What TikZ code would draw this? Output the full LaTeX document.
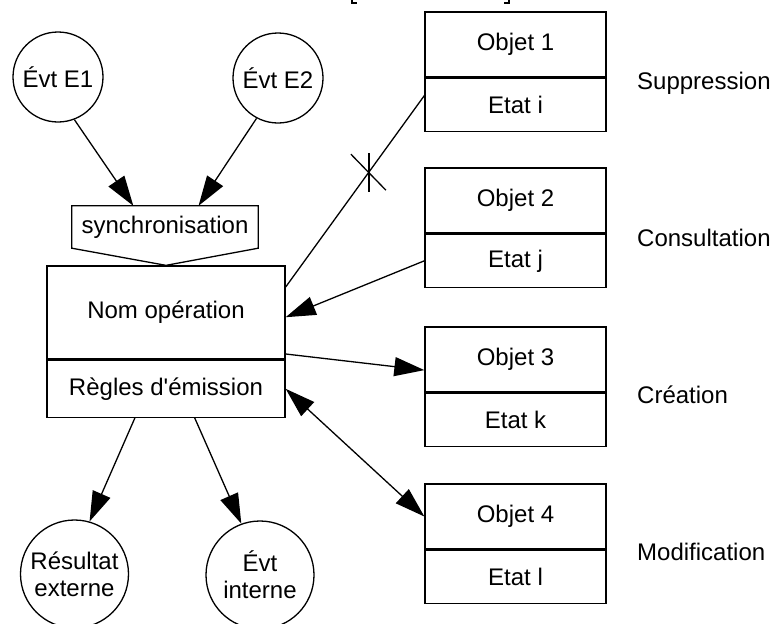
\documentclass[tikz,border=0pt]{standalone}
\usepackage{fontspec}
\setmainfont{Liberation Sans}
\usetikzlibrary{arrows.meta,positioning,calc}

\begin{document}
\begin{tikzpicture}[
x=1pt,
y=-1pt,
every node/.style={font=\fontsize{24}{27}\selectfont},
evt/.style={circle,draw,line width=1.3pt,align=center,inner sep=0pt,minimum size=90pt},
sortie/.style={circle,draw,line width=1.3pt,align=center,inner sep=0pt,minimum size=108pt},
opbox/.style={rectangle,draw,line width=1.3pt,inner sep=0pt,minimum width=238pt},
objet/.style={rectangle,draw,line width=1.3pt,inner sep=0pt,minimum width=181pt,minimum height=65pt},
etat/.style={rectangle,draw,line width=1.3pt,inner sep=0pt,minimum width=181pt,minimum height=53pt},
lien/.style={line width=1.3pt},
arr/.style={-{Triangle[length=30pt,width=19pt]},line width=1.3pt},
arr2/.style={{Triangle[length=30pt,width=19pt]}-{Triangle[length=30pt,width=19pt]},line width=1.3pt},
lbl/.style={anchor=west,inner sep=0pt}
]
\useasboundingbox (0,0) rectangle (774,624);

\node[evt] (e1) at (58,77) {Évt E1};
\node[evt] (e2) at (278,78) {Évt E2};
\node[rectangle,inner sep=0pt,minimum width=186pt,minimum height=42pt] (sync) at (165,227) {synchronisation};

\node[opbox,minimum height=93pt] (oper) at (166,312.5) {Nom opération};
\node[opbox,minimum height=57pt,below=0pt of oper] (regles) {Règles d\textquotesingle émission};
\draw[lien] (sync.north west) -- (sync.north east) -- (sync.south east) -- (oper.north) -- (sync.south west) -- cycle;

\node[sortie] (res) at (74.5,574) {Résultat\\externe};
\node[sortie] (int) at (260,575) {Évt\\interne};

\node[objet] (obj1) at (515.5,44.5) {Objet 1};
\node[etat,below=0pt of obj1] (etat1) {Etat i};
\node[objet] (obj2) at (515.5,200.5) {Objet 2};
\node[etat,below=0pt of obj2] (etat2) {Etat j};
\node[objet] (obj3) at (515.5,359.5) {Objet 3};
\node[etat,below=0pt of obj3] (etat3) {Etat k};
\node[objet] (obj4) at (515.5,516.5) {Objet 4};
\node[etat,below=0pt of obj4] (etat4) {Etat l};

\node[lbl] (supp) at (637,83) {Suppression};
\node[lbl] (cons) at (637,238) {Consultation};
\node[lbl] (crea) at (637,395) {Création};
\node[lbl] (modif) at (637,552) {Modification};

\draw[arr] (e1.-69) -- ($(sync.north west)!0.33!(sync.north east)$);
\draw[arr] (e2.-118) -- ($(sync.north west)!0.68!(sync.north east)$);

\draw[lien] ($(etat1.north west)!0.33!(etat1.south west)$) -- coordinate[pos=0.40] (coupure) ($(oper.north east)!0.23!(oper.south east)$);
\draw[lien] ($(coupure)+(0,-19)$) -- ($(coupure)+(0,20)$);
\draw[lien] ($(coupure)+(-18,-18)$) -- ($(coupure)+(17,18)$);
\draw[arr] (etat2.west) -- ($(oper.north east)!0.55!(oper.south east)$);
\draw[arr] ($(oper.north east)!0.94!(oper.south east)$) -- ($(obj3.north west)!0.66!(obj3.south west)$);
\draw[arr2] (regles.east) -- (obj4.west);

\draw[arr] ($(regles.south west)!0.37!(regles.south east)$) -- (res.74);
\draw[arr] ($(regles.south west)!0.62!(regles.south east)$) -- (int.110);

% bracket feet cut off at the top edge
\draw[line width=1.5pt] (352,0) -- (352,3) -- (357,3);
\draw[line width=1.5pt] (509,0) -- (509,3) -- (504,3);
\end{tikzpicture}
\end{document}
